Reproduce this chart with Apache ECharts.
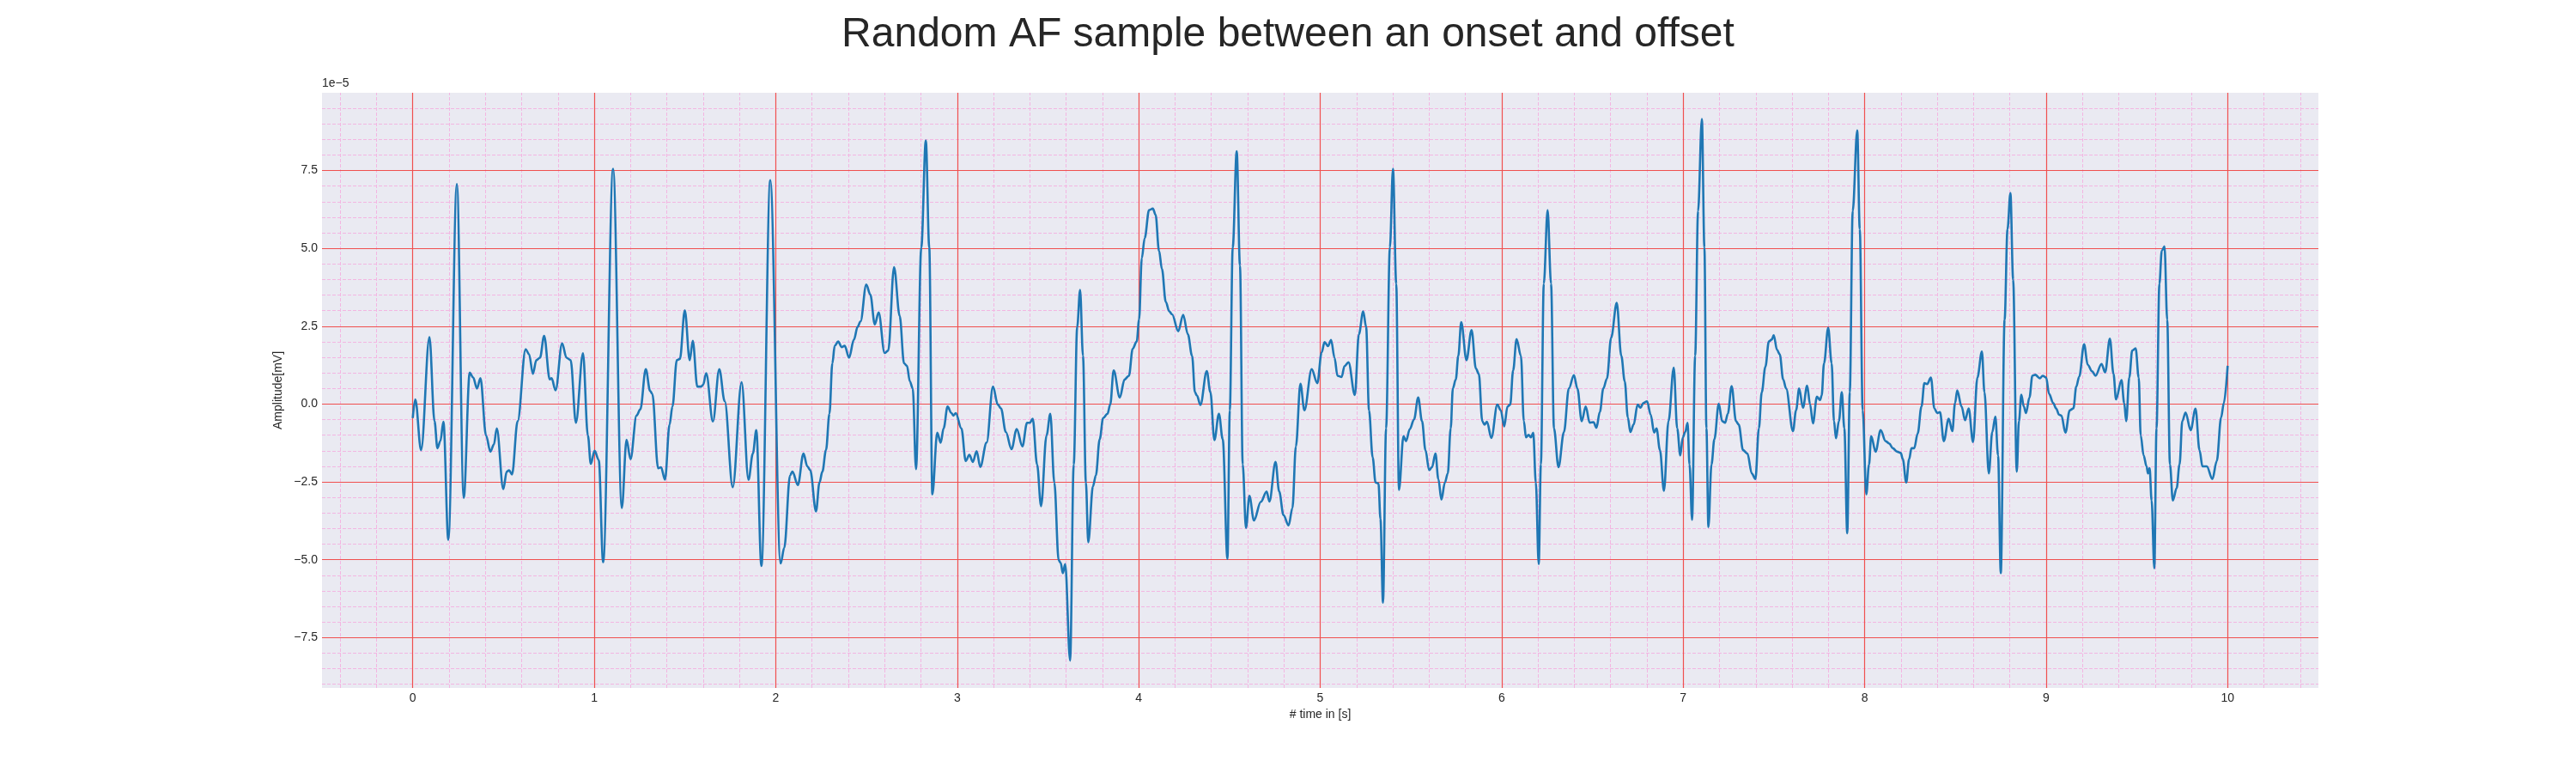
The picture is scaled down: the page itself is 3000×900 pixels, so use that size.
<!DOCTYPE html>
<html>
<head>
<meta charset="utf-8">
<title>Random AF sample between an onset and offset</title>
<script src="https://cdn.jsdelivr.net/npm/echarts@6/dist/echarts.min.js"></script>
<style>
  html, body { margin: 0; padding: 0; background: #ffffff; }
  #chart { width: 3000px; height: 900px; }
</style>
</head>
<body>
<div id="chart"></div>
<script>
// time axis (seconds) and amplitude (units of 1e-5 mV)
var timeSec = [
  0.000, 0.014, 0.046, 0.092, 0.120, 0.136, 0.152, 0.169, 0.196, 0.243, 0.281, 0.314, 0.333, 0.354, 0.373,
  0.404, 0.428, 0.447, 0.463, 0.499, 0.518, 0.531, 0.547, 0.578, 0.622, 0.641, 0.662, 0.681, 0.701, 0.724,
  0.755, 0.765, 0.787, 0.823, 0.847, 0.870, 0.899, 0.938, 0.965, 0.981, 1.002, 1.025, 1.049, 1.104, 1.152,
  1.178, 1.200, 1.233, 1.254, 1.284, 1.308, 1.320, 1.352, 1.368, 1.390, 1.415, 1.431, 1.455, 1.472, 1.499,
  1.526, 1.543, 1.568, 1.589, 1.600, 1.617, 1.654, 1.689, 1.719, 1.763, 1.812, 1.850, 1.874, 1.893, 1.921,
  1.970, 2.027, 2.047, 2.079, 2.092, 2.122, 2.153, 2.174, 2.190, 2.222, 2.241, 2.257, 2.277, 2.296, 2.312,
  2.325, 2.344, 2.363, 2.380, 2.404, 2.431, 2.451, 2.467, 2.499, 2.521, 2.546, 2.567, 2.600, 2.620, 2.652,
  2.683, 2.707, 2.723, 2.739, 2.755, 2.773, 2.802, 2.827, 2.846, 2.863, 2.890, 2.909, 2.925, 2.947, 2.968,
  2.979, 2.992, 3.023, 3.047, 3.067, 3.086, 3.107, 3.127, 3.162, 3.197, 3.224, 3.241, 3.268, 3.299, 3.328,
  3.359, 3.385, 3.400, 3.416, 3.440, 3.462, 3.492, 3.513, 3.535, 3.559, 3.570, 3.582, 3.595, 3.622, 3.642,
  3.661, 3.677, 3.693, 3.709, 3.722, 3.748, 3.764, 3.785, 3.804, 3.828, 3.843, 3.862, 3.896, 3.922, 3.946,
  3.967, 3.989, 4.002, 4.017, 4.033, 4.057, 4.078, 4.093, 4.112, 4.128, 4.149, 4.168, 4.184, 4.218, 4.245,
  4.271, 4.294, 4.310, 4.321, 4.340, 4.375, 4.395, 4.417, 4.442, 4.463, 4.489, 4.502, 4.518, 4.540, 4.558,
  4.573, 4.591, 4.610, 4.635, 4.673, 4.705, 4.720, 4.754, 4.774, 4.798, 4.826, 4.847, 4.866, 4.891, 4.913,
  4.953, 4.984, 5.008, 5.024, 5.043, 5.060, 5.079, 5.095, 5.118, 5.134, 5.156, 5.191, 5.213, 5.237, 5.253,
  5.269, 5.289, 5.305, 5.321, 5.332, 5.346, 5.363, 5.384, 5.401, 5.419, 5.434, 5.459, 5.473, 5.494, 5.517,
  5.540, 5.561, 5.580, 5.600, 5.616, 5.635, 5.651, 5.668, 5.687, 5.703, 5.719, 5.731, 5.747, 5.761, 5.777,
  5.806, 5.834, 5.858, 5.874, 5.893, 5.905, 5.919, 5.943, 5.976, 5.995, 6.014, 6.032, 6.047, 6.063, 6.082,
  6.106, 6.122, 6.134, 6.148, 6.161, 6.174, 6.188, 6.204, 6.216, 6.232, 6.253, 6.272, 6.288, 6.313, 6.343,
  6.370, 6.398, 6.417, 6.441, 6.463, 6.485, 6.506, 6.522, 6.541, 6.560, 6.580, 6.603, 6.634, 6.659, 6.678,
  6.695, 6.709, 6.727, 6.749, 6.765, 6.780, 6.801, 6.821, 6.840, 6.853, 6.872, 6.894, 6.919, 6.948, 6.967,
  6.984, 6.998, 7.011, 7.024, 7.035, 7.049, 7.066, 7.082, 7.103, 7.117, 7.128, 7.139, 7.156, 7.172, 7.196,
  7.215, 7.231, 7.246, 7.267, 7.291, 7.306, 7.330, 7.354, 7.378, 7.398, 7.417, 7.433, 7.453, 7.472, 7.488,
  7.499, 7.517, 7.532, 7.551, 7.567, 7.605, 7.622, 7.639, 7.660, 7.683, 7.699, 7.715, 7.737, 7.754, 7.763,
  7.776, 7.799, 7.818, 7.831, 7.842, 7.858, 7.874, 7.888, 7.904, 7.918, 7.934, 7.959, 7.973, 7.989, 8.009,
  8.024, 8.036, 8.060, 8.088, 8.115, 8.136, 8.155, 8.179, 8.199, 8.210, 8.229, 8.245, 8.258, 8.273, 8.292,
  8.313, 8.329, 8.344, 8.365, 8.384, 8.400, 8.415, 8.436, 8.463, 8.483, 8.498, 8.510, 8.534, 8.553, 8.573,
  8.597, 8.621, 8.646, 8.660, 8.684, 8.703, 8.720, 8.735, 8.750, 8.771, 8.787, 8.803, 8.818, 8.838, 8.850,
  8.863, 8.877, 8.889, 8.908, 8.924, 8.940, 8.965, 8.981, 9.000, 9.016, 9.039, 9.055, 9.071, 9.084, 9.106,
  9.130, 9.150, 9.166, 9.182, 9.209, 9.229, 9.253, 9.272, 9.305, 9.325, 9.351, 9.371, 9.385, 9.415, 9.430,
  9.441, 9.458, 9.474, 9.493, 9.510, 9.521, 9.537, 9.553, 9.561, 9.570, 9.581, 9.596, 9.608, 9.624, 9.637,
  9.652, 9.667, 9.682, 9.698, 9.719, 9.735, 9.750, 9.768, 9.796, 9.823, 9.845, 9.861, 9.885, 9.916, 9.940,
  9.964, 9.979, 10.000
]
var amplitude = [
  -0.45, 0.15, -1.48, 2.15, -0.55, -1.42, -1.19, -0.57, -4.36, 7.07, -3.01, 1.01, 0.85, 0.50, 0.83,
  -1.01, -1.53, -1.30, -0.78, -2.73, -2.17, -2.13, -2.26, -0.55, 1.76, 1.60, 0.97, 1.41, 1.49, 2.19,
  0.79, 0.83, 0.44, 1.95, 1.49, 1.41, -0.60, 1.63, -1.01, -1.92, -1.50, -1.80, -5.08, 7.56, -3.34,
  -1.15, -1.77, -0.37, -0.17, 1.12, 0.42, 0.33, -2.06, -2.03, -2.43, -0.66, -0.08, 1.41, 1.45, 3.01,
  1.41, 2.03, 0.56, 0.56, 0.62, 0.99, -0.56, 1.12, 0.09, -2.67, 0.70, -2.43, -1.59, -0.84, -5.20,
  7.19, -5.12, -4.62, -2.29, -2.17, -2.60, -1.59, -2.00, -2.12, -3.45, -2.52, -2.17, -1.48, -0.31, 1.31,
  1.87, 2.01, 1.83, 1.87, 1.49, 2.07, 2.48, 2.65, 3.84, 3.52, 2.56, 2.94, 1.64, 1.72, 4.40,
  2.83, 1.31, 1.23, 0.73, 0.50, -2.09, 5.03, 8.47, 5.03, -2.90, -0.92, -1.24, -0.78, -0.08, -0.29,
  -0.37, -0.29, -0.78, -1.83, -1.63, -1.86, -1.51, -2.02, -1.24, 0.56, -0.02, -0.14, -0.90, -1.45, -0.80,
  -1.36, -0.60, -0.60, -0.47, -1.94, -3.28, -1.01, -0.31, -2.52, -5.02, -5.10, -5.43, -5.14, -8.24, -1.94,
  2.48, 3.67, 1.55, -2.52, -4.44, -2.64, -2.29, -1.13, -0.45, -0.31, -0.02, 1.08, 0.21, 0.79, 0.91,
  1.78, 2.01, 2.71, 4.69, 5.33, 6.23, 6.28, 6.08, 4.92, 4.34, 3.29, 2.98, 2.88, 2.34, 2.87,
  2.24, 1.55, 0.38, 0.27, -0.03, 1.06, 0.38, -1.16, -0.31, -1.13, -4.97, -0.20, 5.03, 8.12, 4.45,
  -1.94, -3.98, -2.95, -3.74, -3.14, -2.81, -3.13, -1.86, -2.81, -3.57, -3.90, -3.34, -1.36, 0.65, -0.20,
  1.12, 0.67, 1.66, 1.99, 1.86, 2.06, 1.49, 0.91, 0.87, 1.22, 1.34, 0.29, 2.24, 2.98, 2.48,
  -0.20, -1.71, -2.52, -2.55, -3.69, -6.38, -0.78, 5.03, 7.56, 3.87, -2.76, -1.03, -1.19, -0.80, -0.49,
  0.21, -0.55, -1.48, -2.12, -2.03, -1.59, -2.41, -3.07, -2.52, -2.23, -0.78, 0.50, 0.79, 1.55, 2.63,
  1.41, 2.38, 1.14, 0.97, -0.55, -0.66, -0.57, -1.09, -0.02, -0.20, -0.72, -0.08, -0.02, 1.08, 2.09,
  1.55, -0.55, -1.07, -0.99, -1.07, -0.92, -2.52, -5.14, -1.94, 3.87, 6.23, 3.87, -0.78, -2.03, -0.90,
  0.50, 0.93, 0.50, -0.55, -0.08, -0.60, -0.58, -0.76, -0.25, 0.50, 0.82, 2.13, 3.25, 1.55, 0.73,
  -0.43, -0.90, -0.66, -0.02, -0.12, 0.03, 0.09, -0.34, -0.92, -0.78, -1.48, -2.79, -0.55, 1.17, -0.78,
  -1.65, -1.07, -0.90, -0.60, -1.94, -3.72, 1.55, 6.20, 9.16, 5.03, -0.78, -3.95, -1.94, -1.13, 0.01,
  -0.55, -0.60, -0.31, 0.58, -0.55, -0.66, -1.48, -1.59, -2.23, -2.41, -0.78, 0.38, 1.20, 2.01, 2.07,
  2.21, 1.74, 1.60, 0.79, 0.50, -0.87, -0.20, 0.50, -0.12, 0.59, 0.00, -0.62, 0.24, 0.13, 0.27,
  1.31, 2.45, 1.31, -0.55, -1.10, -0.55, 0.38, -0.78, -4.15, 0.38, 6.20, 8.79, 5.62, -0.20, -2.90,
  -1.94, -1.03, -1.53, -0.84, -1.19, -1.27, -1.42, -1.53, -1.57, -1.77, -2.52, -1.77, -1.42, -1.42, -0.95,
  -0.08, 0.67, 0.64, 0.85, -0.14, -0.29, -0.26, -1.19, -0.47, -0.87, 0.03, 0.44, -0.08, -0.52, -0.14,
  -1.22, 0.85, 1.69, 0.38, -2.23, -0.90, -0.40, -1.65, -5.43, 2.71, 5.62, 6.78, 4.00, -2.17, -0.55,
  0.30, -0.08, -0.29, 0.21, 0.91, 0.94, 0.83, 0.91, 0.85, 0.33, 0.03, -0.14, -0.34, -0.37, -0.92,
  -0.20, -0.14, 0.56, 0.88, 1.92, 1.26, 1.05, 0.91, 1.29, 1.02, 2.10, 0.97, 0.15, 0.77, 0.03,
  -0.55, 0.85, 1.72, 1.79, 0.85, -1.01, -1.65, -2.00, -2.23, -2.06, -3.10, -5.28, -0.78, 3.87, 4.92,
  5.07, 2.71, -1.94, -3.10, -2.70, -1.94, -0.55, -0.27, -0.84, -0.15, -1.48, -2.00, -2.00, -2.41, -1.83,
  -0.43, 0.03, 1.23
]

// tick labels
var xTickValues = [0, 1, 2, 3, 4, 5, 6, 7, 8, 9, 10]
var yTickValues = [-7.5, -5.0, -2.5, 0.0, 2.5, 5.0, 7.5]

// axis limits (matplotlib auto margins)
var xMin = -0.5, xMax = 10.5
var yMin = -9.12, yMax = 10.0

var signal = timeSec.map(function (t, i) { return [t, amplitude[i]] })

// grid lines drawn as mark lines so they sit on the same scale as the data
var minorStyle = { color: '#f3b6e2', width: 1, type: [4, 2] }
var majorStyle = { color: '#f0504f', width: 1.2, type: 'solid' }
var gridLines = []
for (var i = -2; i <= 52; i++) {
  var xv = Math.round(i * 0.2 * 10) / 10
  if (xv % 1 !== 0) gridLines.push({ xAxis: xv, lineStyle: minorStyle })
}
for (var j = -18; j <= 20; j++) {
  var yv = j * 0.5
  if (yv % 2.5 !== 0) gridLines.push({ yAxis: yv, lineStyle: minorStyle })
}
xTickValues.forEach(function (v) { gridLines.push({ xAxis: v, lineStyle: majorStyle }) })
yTickValues.forEach(function (v) { gridLines.push({ yAxis: v, lineStyle: majorStyle }) })

function fmtMinus(v) {
  return v.toFixed(1).replace('-', '\u2212')
}

var chart = echarts.init(document.getElementById('chart'), null, { renderer: 'canvas' })
var option = {
  animation: false,
  backgroundColor: '#ffffff',
  textStyle: { fontFamily: 'Liberation Sans, Arial, sans-serif' },
  title: {
    text: 'Random AF sample between an onset and offset',
    left: 'center',
    top: 12,
    textStyle: {
      fontFamily: 'Liberation Sans, Arial, sans-serif',
      fontSize: 48,
      fontWeight: 'normal',
      color: '#262626'
    }
  },
  graphic: [{
    type: 'text',
    left: 375,
    top: 90,
    style: {
      text: '1e\u22125',
      fontSize: 14,
      fontFamily: 'Liberation Sans, Arial, sans-serif',
      fill: '#262626'
    }
  }],
  grid: {
    left: 375,
    right: 300,
    top: 108,
    bottom: 99,
    show: true,
    backgroundColor: '#eaeaf2',
    borderWidth: 0
  },
  xAxis: {
    type: 'value',
    min: xMin,
    max: xMax,
    name: '# time in [s]',
    nameLocation: 'middle',
    nameGap: 20,
    nameTextStyle: { fontSize: 14, color: '#262626' },
    axisLine: { show: false },
    axisTick: { show: false },
    splitLine: { show: false },
    axisLabel: {
      customValues: xTickValues,
      fontSize: 14,
      color: '#262626',
      margin: 5,
      formatter: function (v) { return String(v) }
    }
  },
  yAxis: {
    type: 'value',
    min: yMin,
    max: yMax,
    name: 'Amplitude[mV]',
    nameLocation: 'middle',
    nameGap: 40,
    nameTextStyle: { fontSize: 14, color: '#262626' },
    axisLine: { show: false },
    axisTick: { show: false },
    splitLine: { show: false },
    axisLabel: {
      customValues: yTickValues,
      fontSize: 14,
      color: '#262626',
      margin: 5,
      formatter: fmtMinus
    }
  },
  series: [
    {
      name: 'grid',
      type: 'line',
      data: signal,
      silent: true,
      showSymbol: false,
      lineStyle: { opacity: 0 },
      z: 1,
      markLine: {
        silent: true,
        symbol: ['none', 'none'],
        label: { show: false },
        emphasis: { disabled: true },
        animation: false,
        data: gridLines
      }
    },
    {
      name: 'signal',
      type: 'line',
      data: signal,
      showSymbol: false,
      smooth: 0.35,
      smoothMonotone: 'x',
      z: 5,
      lineStyle: { color: '#1f77b4', width: 2.6 }
    }
  ]
}
chart.setOption(option)
</script>
</body>
</html>
